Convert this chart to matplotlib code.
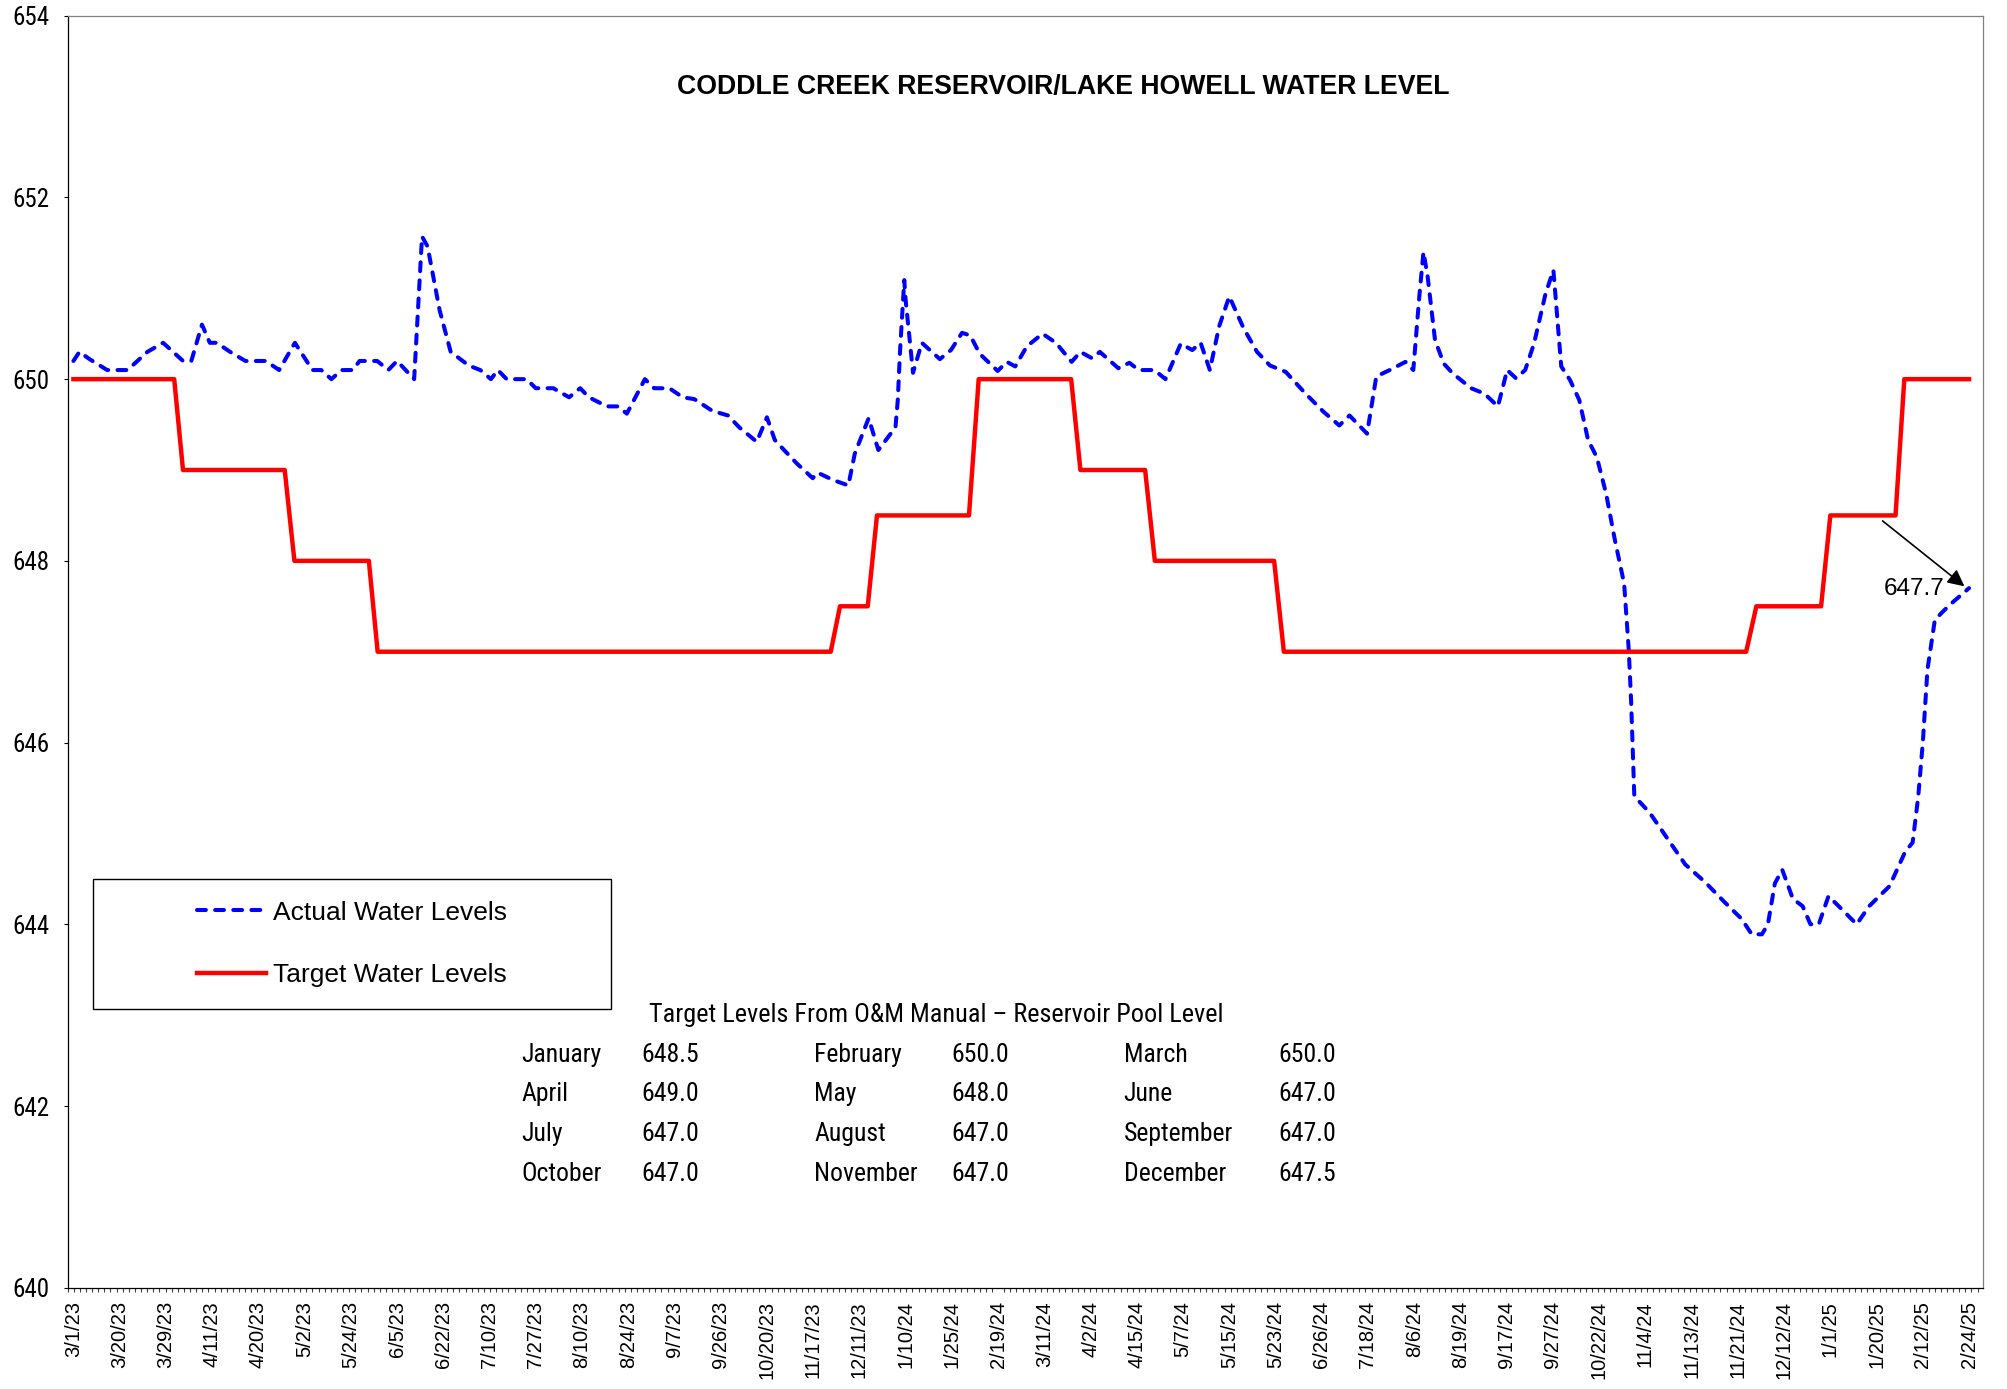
import matplotlib
matplotlib.use('Agg')
import numpy as np
import matplotlib.pyplot as plt
from matplotlib import font_manager
from matplotlib.patches import Rectangle

# category labels shown along the x axis (one every few readings)
date_labels = ['3/1/23', '3/20/23', '3/29/23', '4/11/23', '4/20/23', '5/2/23',
               '5/24/23', '6/5/23', '6/22/23', '7/10/23', '7/27/23', '8/10/23',
               '8/24/23', '9/7/23', '9/26/23', '10/20/23', '11/17/23', '12/11/23',
               '1/10/24', '1/25/24', '2/19/24', '3/11/24', '4/2/24', '4/15/24',
               '5/7/24', '5/15/24', '5/23/24', '6/26/24', '7/18/24', '8/6/24',
               '8/19/24', '9/17/24', '9/27/24', '10/22/24', '11/4/24', '11/13/24',
               '11/21/24', '12/12/24', '1/1/25', '1/20/25', '2/12/25', '2/24/25']

# actual water level, x in units of the date labels above
actual_x = [0.00, 0.13, 0.35, 0.73, 1.17, 1.60, 1.94, 2.37, 2.55, 2.78, 2.95, 3.10,
            3.39, 3.72, 4.16, 4.45, 4.79, 5.17, 5.36, 5.58, 5.80, 6.04, 6.19, 6.57,
            6.81, 7.00, 7.37, 7.54, 7.66, 7.92, 8.16, 8.55, 8.80, 9.03, 9.18, 9.37,
            9.80, 10.00, 10.38, 10.72, 10.96, 11.15, 11.54, 11.78, 11.97, 12.36,
            12.56, 12.89, 13.18, 13.43, 13.82, 14.16, 14.40, 14.78, 15.00, 15.17,
            15.37, 15.65, 15.99, 16.10, 16.43, 16.76, 16.90, 17.20, 17.41, 17.78,
            17.83, 17.88, 17.97, 18.00, 18.16, 18.35, 18.74, 18.98, 19.22, 19.40,
            19.60, 19.99, 20.19, 20.37, 20.62, 20.96, 21.25, 21.59, 21.78, 22.03,
            22.20, 22.60, 22.84, 23.04, 23.38, 23.62, 23.95, 24.20, 24.38, 24.58,
            24.78, 25.00, 25.31, 25.60, 25.88, 26.22, 26.65, 27.04, 27.38, 27.60,
            27.98, 28.18, 28.47, 28.81, 28.98, 29.11, 29.20, 29.29, 29.45, 29.64,
            29.84, 30.23, 30.52, 30.81, 31.01, 31.20, 31.40, 31.59, 31.84, 32.01,
            32.18, 32.37, 32.57, 32.76, 32.95, 33.15, 33.34, 33.54, 33.64, 33.69,
            33.76, 34.09, 34.40, 34.86, 35.30, 35.70, 36.08, 36.30, 36.52, 36.65,
            36.80, 36.96, 37.19, 37.40, 37.57, 37.75, 37.96, 38.18, 38.57, 38.84,
            39.28, 39.62, 39.78, 39.90, 40.00, 40.10, 40.26, 40.45, 40.66, 41.00]
actual_y = [650.20, 650.30, 650.22, 650.10, 650.10, 650.30, 650.40, 650.20, 650.20,
            650.60, 650.40, 650.40, 650.30, 650.20, 650.20, 650.10, 650.40, 650.10,
            650.10, 650.00, 650.10, 650.10, 650.20, 650.20, 650.10, 650.20, 650.00,
            651.57, 651.46, 650.76, 650.30, 650.15, 650.10, 650.00, 650.10, 650.00,
            650.00, 649.90, 649.90, 649.80, 649.90, 649.80, 649.70, 649.70, 649.62,
            650.00, 649.90, 649.90, 649.80, 649.78, 649.65, 649.60, 649.47, 649.31,
            649.58, 649.33, 649.22, 649.07, 648.91, 648.97, 648.89, 648.83, 649.18,
            649.57, 649.22, 649.47, 649.77, 650.32, 651.09, 650.87, 650.07, 650.40,
            650.22, 650.32, 650.51, 650.48, 650.28, 650.09, 650.19, 650.14, 650.36,
            650.50, 650.40, 650.19, 650.30, 650.23, 650.30, 650.12, 650.18, 650.10,
            650.10, 650.00, 650.39, 650.32, 650.40, 650.10, 650.58, 650.91, 650.56,
            650.30, 650.15, 650.08, 649.84, 649.64, 649.49, 649.60, 649.40, 650.03,
            650.10, 650.19, 650.10, 650.91, 651.40, 651.13, 650.43, 650.17, 650.06,
            649.90, 649.84, 649.70, 650.10, 650.01, 650.10, 650.39, 650.94, 651.20,
            650.14, 649.99, 649.77, 649.33, 649.14, 648.74, 648.23, 647.75, 647.02,
            646.47, 645.41, 645.23, 645.00, 644.66, 644.46, 644.25, 644.06, 643.89,
            643.89, 644.00, 644.45, 644.60, 644.28, 644.20, 644.00, 644.00, 644.31,
            644.20, 644.00, 644.20, 644.42, 644.80, 644.90, 645.40, 646.00, 646.80,
            647.35, 647.45, 647.55, 647.70]

# target water level (monthly steps)
target_x = [0, 2.18, 2.37, 4.57, 4.78, 6.39, 6.58, 16.38, 16.58, 17.18, 17.38, 19.37,
            19.58, 21.58, 21.78, 23.18, 23.39, 25.97, 26.18, 36.18, 36.40, 37.80,
            38.00, 39.41, 39.60, 41]
target_y = [650, 650, 649, 649, 648, 648, 647, 647, 647.5, 647.5, 648.5, 648.5,
            650, 650, 649, 649, 648, 648, 647, 647, 647.5, 647.5, 648.5, 648.5,
            650, 650]

months = ['January', 'February', 'March', 'April', 'May', 'June', 'July',
          'August', 'September', 'October', 'November', 'December']
month_targets = [648.5, 650.0, 650.0, 649.0, 648.0, 647.0, 647.0, 647.0, 647.0,
                 647.0, 647.0, 647.5]


def find_narrow():
    # look for an Arial Narrow-like face among the installed fonts
    prefs = ['Liberation Sans Narrow', 'Arial Narrow', 'Roboto Condensed',
             'Open Sans Condensed', 'Noto Sans', 'DejaVu Sans', 'Open Sans', 'Roboto']
    cands = []
    for f in font_manager.fontManager.ttflist:
        tag = (f.name + ' ' + f.fname).lower()
        st = str(f.stretch).lower()
        if ('narrow' in tag or 'condensed' in tag or 'condensed' in st
                or st in ('semi-condensed', 'extra-condensed')) and 'bold' not in tag \
                and 'italic' not in tag and 'mono' not in tag and 'serif' not in f.name.lower():
            if str(f.weight) in ('400', 'normal', 'regular') or f.weight == 400:
                cands.append(f)
    for p in prefs:
        for f in cands:
            if f.name == p or f.name.startswith(p):
                return f.fname
    return cands[0].fname if cands else None


narrow_path = find_narrow()
plt.rcParams['font.family'] = ['Liberation Sans', 'DejaVu Sans']


def nfont(size):
    if narrow_path:
        return font_manager.FontProperties(fname=narrow_path, size=size)
    return font_manager.FontProperties(family='Liberation Sans', size=size * 0.88)


fig = plt.figure(figsize=(20.07, 13.89), dpi=100)
ax = fig.add_axes([0.0337, 0.0729, 0.9543, 0.9158])

ax.plot(actual_x, actual_y, color='#0000FF', lw=2.9, dashes=(2.2, 2.3),
        dash_capstyle='round', label='Actual Water Levels')
ax.plot(target_x, target_y, color='#FF0000', lw=3.2, label='Target Water Levels')

ax.set_xlim(-0.125, 41.3)
ax.set_ylim(640, 654)
ax.set_yticks(np.arange(640, 655, 2))
for t in ax.get_yticklabels():
    t.set_fontproperties(nfont(18))
ax.tick_params(axis='y', direction='out', length=3, width=0.8, pad=10)

ax.set_xticks(range(len(date_labels)))
ax.set_xticklabels(date_labels, rotation=90, fontsize=14.5)
ax.set_xticks(np.arange(-0.125, 41.3, 0.1324), minor=True)
ax.tick_params(axis='x', which='major', length=0, pad=9.5)
ax.tick_params(axis='x', which='minor', direction='out', length=3, width=0.8,
               color='#404040')

for side in ['top', 'right']:
    ax.spines[side].set_color('#808080')
for side in ['left', 'bottom']:
    ax.spines[side].set_color('black')
for s in ax.spines.values():
    s.set_linewidth(0.9)

ax.text(0.52, 0.944, 'CODDLE CREEK RESERVOIR/LAKE HOWELL WATER LEVEL',
        transform=ax.transAxes, ha='center', va='center', fontsize=19.2,
        fontweight='bold')

# legend with its own box
ax.add_patch(Rectangle((0.0134, 0.2194), 0.2701, 0.1019, transform=ax.transAxes,
                       fill=False, ec='black', lw=1, zorder=5))
ax.legend(loc='center', bbox_to_anchor=(0.1485, 0.2704), frameon=False,
          fontsize=19, handlelength=2.6, handletextpad=0.27, labelspacing=1.45)

# last reading callout
ax.annotate('', xy=(40.9, 647.72), xytext=(39.13, 648.44),
            arrowprops=dict(arrowstyle='-|>', color='black', lw=1.2,
                            mutation_scale=25, shrinkA=0, shrinkB=0))
ax.text(40.47, 647.69, '647.7', ha='right', va='center', fontsize=17.5)

# target levels table
ax.text(0.4533, 0.2144, 'Target Levels From O&M Manual \u2013 Reservoir Pool Level',
        transform=ax.transAxes, ha='center', va='center', fontproperties=nfont(18.9))
row_y = [0.1832, 0.1520, 0.1208, 0.0895]
col_name_x = [0.2367, 0.3897, 0.5514]
col_val_x = [0.2995, 0.4612, 0.6323]
for i, (m, v) in enumerate(zip(months, month_targets)):
    r, c = divmod(i, 3)
    ax.text(col_name_x[c], row_y[r], m, transform=ax.transAxes, ha='left',
            va='center', fontproperties=nfont(18.5))
    ax.text(col_val_x[c], row_y[r], f'{v:.1f}', transform=ax.transAxes, ha='left',
            va='center', fontproperties=nfont(18.5))

fig.savefig('out.png', dpi=100)
